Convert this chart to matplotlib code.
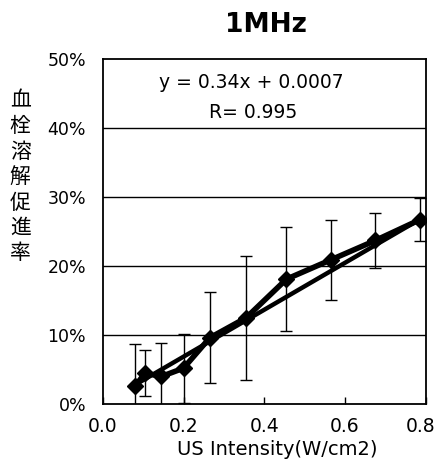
import matplotlib
matplotlib.use("Agg")
import matplotlib.pyplot as plt
import matplotlib.transforms as mtransforms
import numpy as np

plt.rcParams['font.family'] = ['DejaVu Sans', 'Noto Sans CJK JP']

# Data
intensity = [0.08, 0.105, 0.145, 0.20, 0.265, 0.355, 0.455, 0.565, 0.675, 0.785]
rate = [2.6, 4.5, 4.0, 5.2, 9.6, 12.5, 18.1, 20.9, 23.7, 26.7]
err = [6.1, 3.3, 4.9, 5.0, 6.6, 9.0, 7.5, 5.8, 4.0, 3.1]
slope = 0.34
intercept = 0.0007
r_value = 0.995
title = "1MHz"
xlabel = "US Intensity(W/cm2)"
ylabel = "血栓溶解促進率"
yticks = [0, 10, 20, 30, 40, 50]
xticks = [0.0, 0.2, 0.4, 0.6, 0.8]

fig = plt.figure(figsize=(4.39, 4.71), dpi=100)
ax = fig.add_axes([0.234, 0.142, 0.736, 0.733])

x = np.array(intensity)
y = np.array(rate)
ax.errorbar(x, y, yerr=err, fmt='none', ecolor='black', elinewidth=1.0,
            capsize=4, capthick=1.0, zorder=3)
ax.plot(x, y, color='black', lw=4, marker='D', markersize=8,
        markerfacecolor='black', zorder=4)
xt = np.array([x.min(), x.max()])
ax.plot(xt, (slope * xt + intercept) * 100, color='black', lw=3.2, zorder=4)

ax.set_xlim(0, 0.8)
ax.set_ylim(0, 50)
ax.set_yticks(yticks)
ax.set_yticklabels([f"{v}%" for v in yticks], fontsize=12.5)
ax.set_xticks(xticks)
ax.set_xticklabels([f"{v:.1f}" for v in xticks], fontsize=13.5)
ax.tick_params(axis='x', direction='in', length=5, width=1, pad=9)
ax.tick_params(axis='y', length=0, pad=12)
last = ax.get_xticklabels()[-1]
last.set_transform(last.get_transform() +
                   mtransforms.ScaledTranslation(-4 / 72, 0, fig.dpi_scale_trans))
for v in yticks[1:-1]:
    ax.axhline(v, color='black', lw=1, zorder=1)
for s in ax.spines.values():
    s.set_linewidth(1.3)

ax.text(0.46, 0.933, f"y = {slope}x + {intercept}", transform=ax.transAxes,
        ha='center', va='center', fontsize=13.5)
ax.text(0.465, 0.845, f"R= {r_value}", transform=ax.transAxes,
        ha='center', va='center', fontsize=13.5)

fig.text(0.606, 0.947, title, ha='center', va='center', fontsize=19,
         fontweight='bold')
fig.text(0.631, 0.045, xlabel, ha='center', va='center', fontsize=14)
fig.text(0.046, 0.624, "\n".join(ylabel), ha='center', va='center',
         fontsize=15, family=['Noto Sans CJK JP'], linespacing=1.2)

fig.savefig("out.png", dpi=100)
